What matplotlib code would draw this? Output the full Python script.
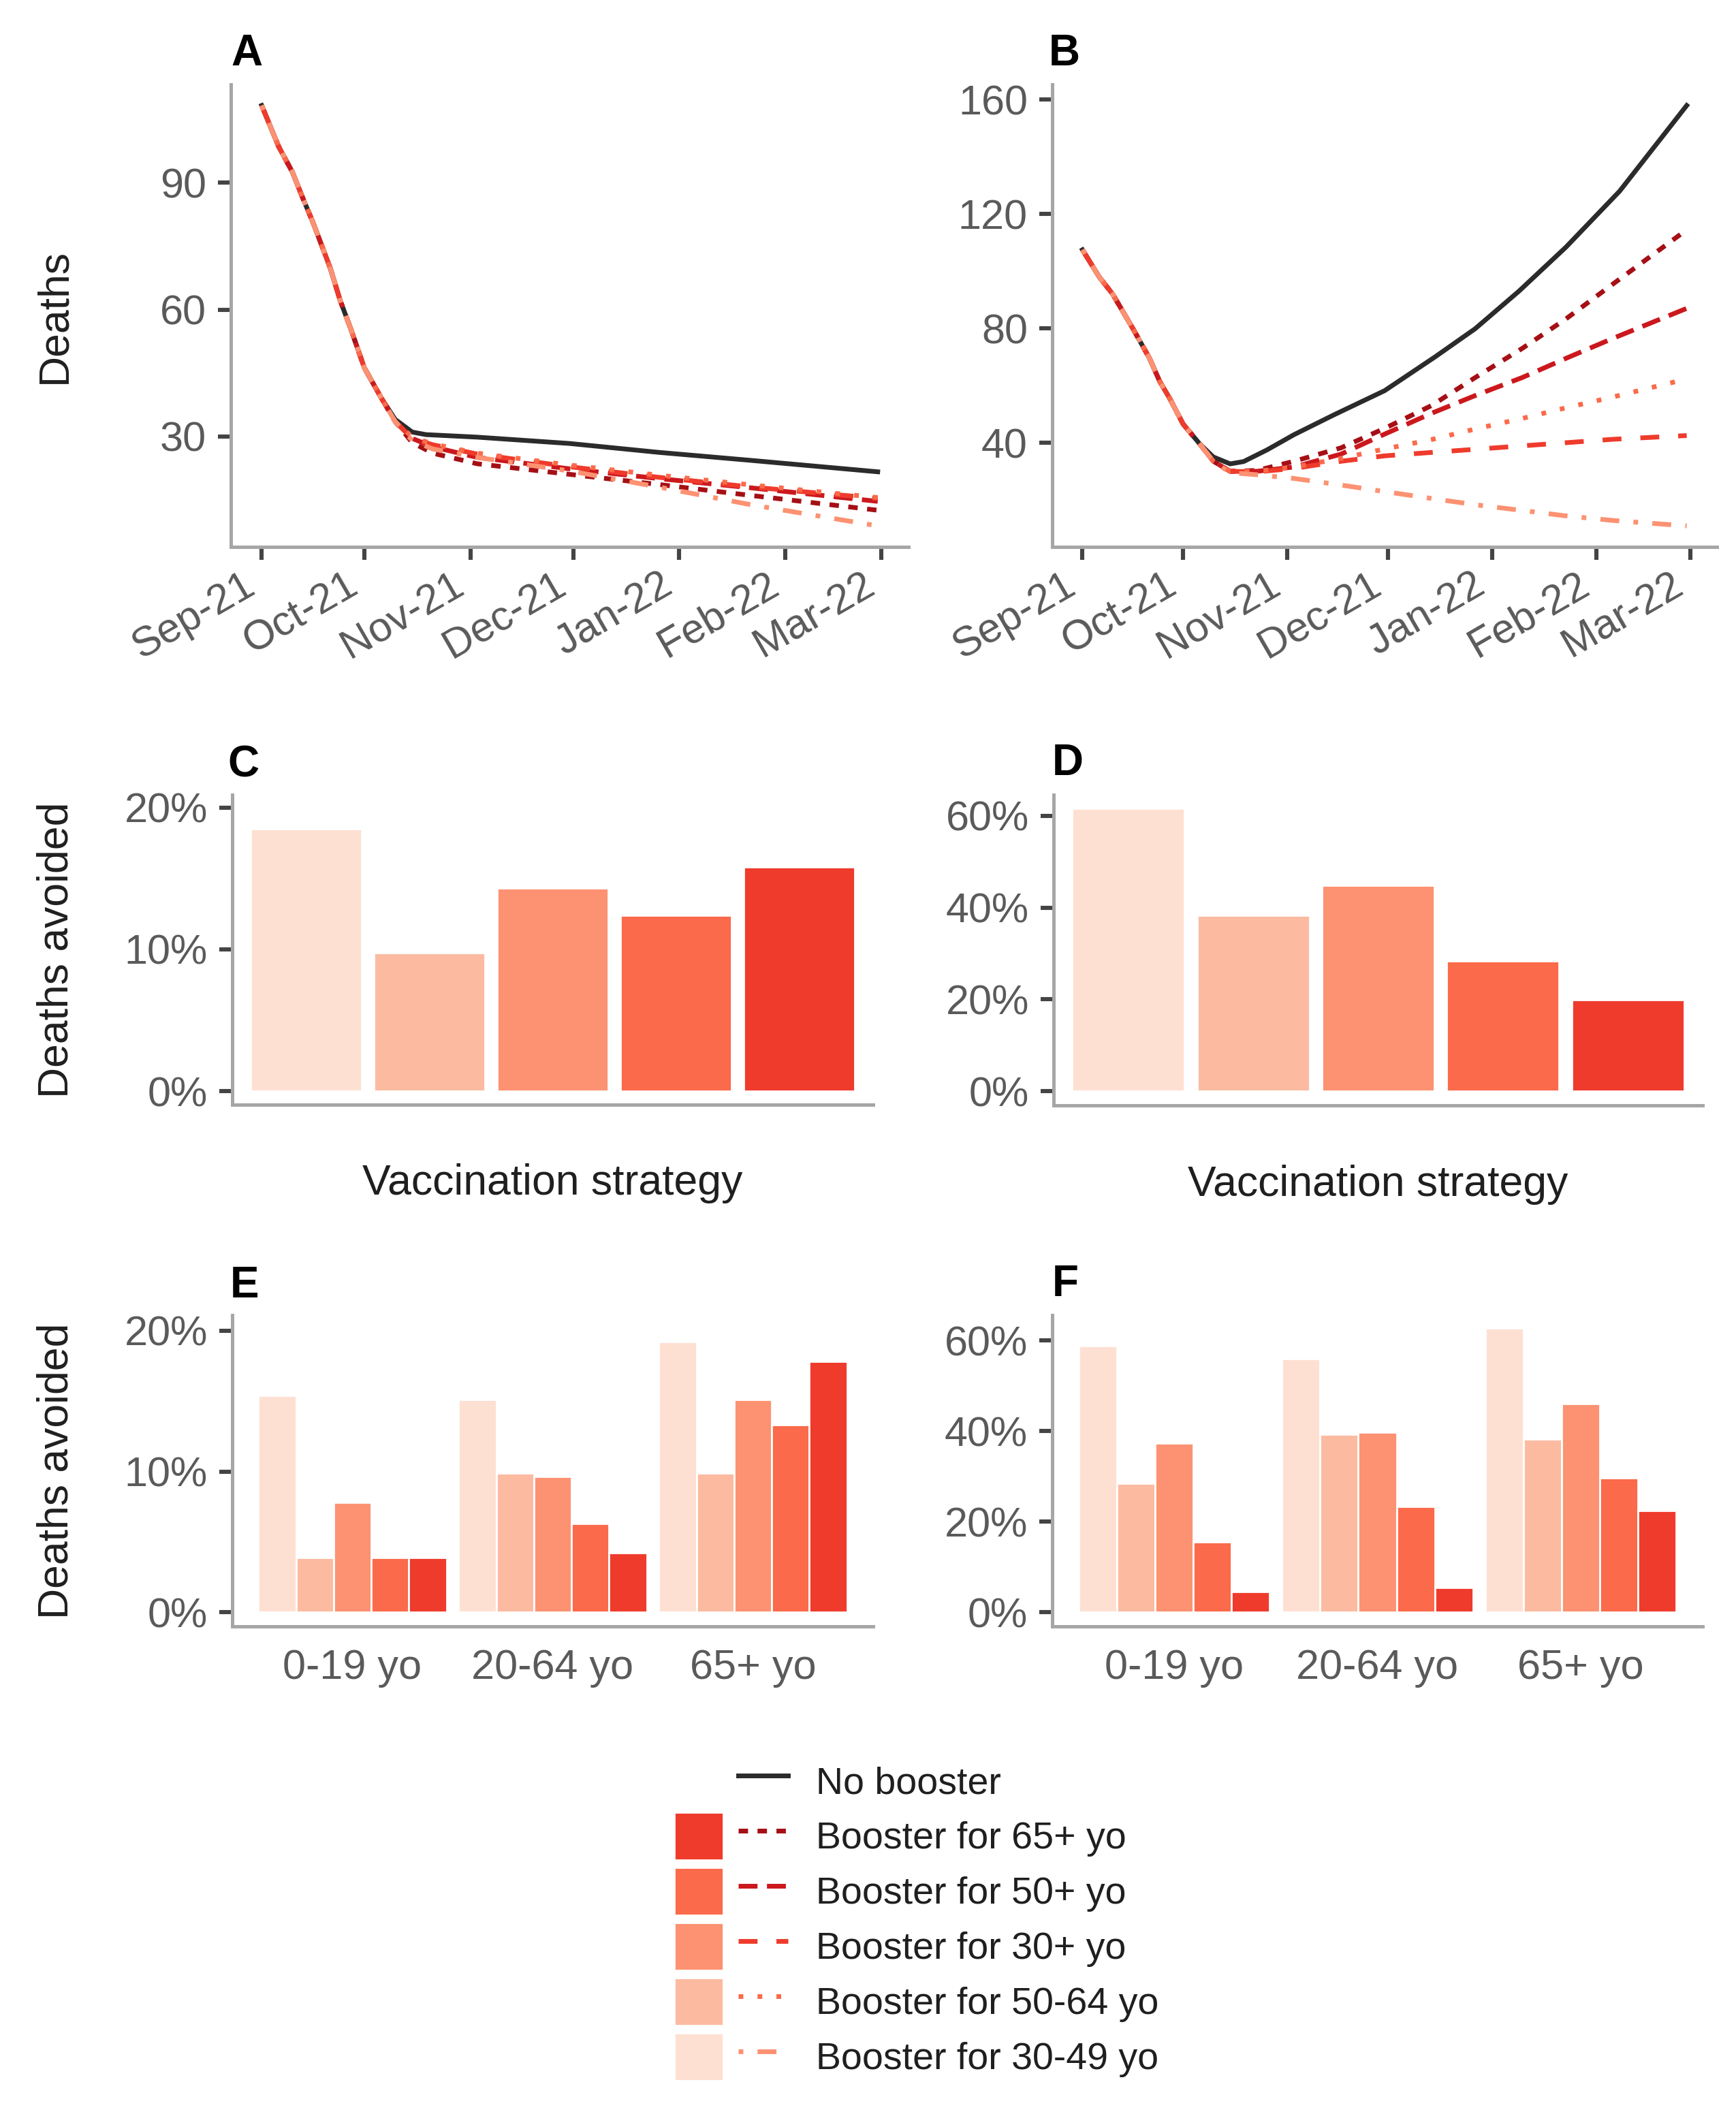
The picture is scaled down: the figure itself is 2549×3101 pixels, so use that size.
import matplotlib
matplotlib.use("Agg")
import matplotlib.pyplot as plt
import matplotlib.dates as mdates
from matplotlib.lines import Line2D
from matplotlib.patches import Patch
from matplotlib.legend_handler import HandlerTuple
from matplotlib.ticker import FuncFormatter
import numpy as np

plt.rcParams['font.family'] = ['Liberation Sans', 'DejaVu Sans']

W, H = 2549, 3101
start = np.datetime64('2021-09-01')

# strategies, lightest to darkest
strategies = ['Booster for 30-49 yo', 'Booster for 50-64 yo', 'Booster for 30+ yo',
              'Booster for 50+ yo', 'Booster for 65+ yo']
fills = ['#FEE0D2', '#FCBBA1', '#FC9272', '#FB6A4A', '#EF3B2C']
line_cols = ['#FC9272', '#FB6A4A', '#EF3B2C', '#CB181D', '#A50F15']
dashes = [(1, 3, 4, 3), (1, 3), (4, 4), (4, 2), (2, 2)]
black = '#2b2b2b'

# panel A: daily deaths (day 0 = 1 Sep 2021)
days_early = [0, 5, 9, 12, 15, 20, 23, 26, 30, 35]
a_early = [108.3, 98.5, 92.5, 86.4, 80.6, 69.9, 62.0, 55.5, 46.2, 39.0]
a_none_days = [39, 44, 48, 63, 90, 116, 143, 180]
a_none = [34.0, 31.0, 30.4, 29.8, 28.3, 26.2, 24.3, 21.6]
a_tail_days = [39, 44, 50, 63, 90, 116, 143, 180]
a_30_49 = [33.5, 29.0, 27.0, 25.0, 21.8, 18.0, 13.8, 8.8]
a_50_64 = [33.5, 29.8, 28.2, 26.0, 23.2, 20.8, 18.5, 15.5]
a_30plus = [33.5, 29.5, 28.0, 25.8, 22.8, 20.3, 18.0, 15.3]
a_50plus = [33.5, 29.5, 27.5, 25.0, 22.3, 20.0, 17.8, 14.6]
a_65plus = [33.5, 28.5, 26.0, 23.5, 21.0, 18.6, 16.0, 12.5]

# panel B: daily deaths, second scenario
b_early = [107.5, 98.0, 92.0, 86.0, 80.0, 69.5, 61.5, 55.5, 46.5, 39.5]
b_none_days = [39, 44, 48, 55, 63, 75, 90, 105, 117, 130, 144, 160, 180]
b_none = [35.0, 32.6, 33.4, 37.5, 42.8, 49.8, 58.2, 70.0, 79.9, 93.0, 108.4, 128.0, 158.0]
b_tail_days = [39, 44, 52, 63, 77, 90, 104, 117, 131, 144, 158, 180]
b_30_49 = [33.5, 29.5, 28.8, 27.5, 25.2, 22.9, 20.5, 18.3, 16.3, 14.4, 12.8, 10.9]
b_50_64 = [33.5, 30.0, 30.0, 31.5, 34.5, 37.8, 41.1, 44.8, 48.5, 52.2, 56.0, 62.3]
b_30plus = [33.5, 30.0, 29.8, 31.0, 33.5, 35.4, 36.6, 37.7, 38.9, 40.0, 41.2, 42.5]
b_50plus = [33.5, 30.0, 30.0, 31.5, 36.0, 43.0, 50.3, 56.5, 62.8, 69.5, 76.5, 87.0]
b_65plus = [33.5, 30.0, 30.3, 33.5, 38.2, 45.0, 53.0, 62.8, 73.0, 83.3, 95.5, 114.5]

# panels C, D: deaths avoided (%) by strategy
pct_c = [18.5, 9.75, 14.3, 12.4, 15.8]
pct_d = [61.6, 38.3, 44.9, 28.4, 19.9]

# panels E, F: deaths avoided (%) by age group
age_groups = ['0-19 yo', '20-64 yo', '65+ yo']
e_30_49 = [15.4, 15.1, 19.2]
e_50_64 = [3.9, 9.9, 9.9]
e_30plus = [7.8, 9.65, 15.1]
e_50plus = [3.9, 6.3, 13.3]
e_65plus = [3.9, 4.2, 17.8]
f_30_49 = [58.8, 56.0, 62.8]
f_50_64 = [28.4, 39.3, 38.2]
f_30plus = [37.3, 39.7, 46.0]
f_50plus = [15.5, 23.4, 29.7]
f_65plus = [4.5, 5.5, 22.4]

LW = 2.5
TICK_FS = 22
TITLE_FS = 22.5


def to_dates(days):
    return start + np.array(days, dtype='timedelta64[D]')


def add_axes(left, top, right, bottom):
    return fig.add_axes([left / W, 1 - bottom / H, (right - left) / W, (bottom - top) / H])


def style(ax):
    for s in ['top', 'right']:
        ax.spines[s].set_visible(False)
    for s in ['left', 'bottom']:
        ax.spines[s].set_color('#a6a6a6')
        ax.spines[s].set_linewidth(1.8)
    ax.tick_params(color='#444444', labelcolor='#5a5a5a', labelsize=TICK_FS,
                   length=7, width=2.2, pad=6)


def line_panel(ax, early, none_days, none_vals, tail_days, tails, yticks):
    ax.plot(to_dates(days_early + none_days), early + none_vals, color=black, lw=LW)
    for i in [4, 3, 2, 1, 0]:
        ax.plot(to_dates(days_early + tail_days), early + tails[i], color=line_cols[i],
                lw=LW, linestyle=(0, dashes[i]))
    ax.margins(x=0.05, y=0.05)
    ax.set_yticks(yticks)
    ax.xaxis.set_major_locator(mdates.MonthLocator(bymonthday=1))
    ax.xaxis.set_major_formatter(mdates.DateFormatter('%b-%y'))
    style(ax)
    ax.tick_params(axis='x', pad=3)
    for lab in ax.get_xticklabels():
        lab.set_rotation(30)
        lab.set_ha('right')


pct_fmt = FuncFormatter(lambda v, p: f'{v:.0f}%')

fig = plt.figure(figsize=(W / 200, H / 200), dpi=200)

ax_a = add_axes(339, 124, 1334, 803)
line_panel(ax_a, a_early, a_none_days, a_none, a_tail_days,
           [a_30_49, a_50_64, a_30plus, a_50plus, a_65plus], [30, 60, 90])
ax_a.set_ylabel('Deaths', fontsize=TITLE_FS, color='#1f1f1f')
ax_a.yaxis.set_label_coords(-0.231, 0.5)

ax_b = add_axes(1545, 124, 2521, 803)
line_panel(ax_b, b_early, b_none_days, b_none, b_tail_days,
           [b_30_49, b_50_64, b_30plus, b_50plus, b_65plus], [40, 80, 120, 160])

# C and D
x_strat = np.arange(1, 6)
ax_c = add_axes(341, 1167, 1282, 1622)
ax_d = add_axes(1547, 1167, 2500, 1623)
for ax, vals, ylim, yt in [(ax_c, pct_c, (-0.96, 20.9), [0, 10, 20]),
                           (ax_d, pct_d, (-3.1, 64.6), [0, 20, 40, 60])]:
    ax.bar(x_strat, vals, width=0.9, color=fills, edgecolor='white', linewidth=1.0)
    ax.set_xlim(0.4, 5.6)
    ax.set_ylim(*ylim)
    ax.set_yticks(yt)
    ax.yaxis.set_major_formatter(pct_fmt)
    ax.set_xticks([])
    style(ax)
    ax.set_xlabel('Vaccination strategy', fontsize=TITLE_FS, color='#1f1f1f')
    ax.xaxis.set_label_coords(0.5, -0.19)
ax_c.set_ylabel('Deaths avoided', fontsize=TITLE_FS, color='#1f1f1f')
ax_c.yaxis.set_label_coords(-0.243, 0.5)

# E and F
x_age = np.arange(len(age_groups))
bw = 0.94 / 5
ax_e = add_axes(341, 1931, 1282, 2388)
ax_f = add_axes(1545, 1931, 2500, 2388)
for ax, series, ylim, yt in [
        (ax_e, [e_30_49, e_50_64, e_30plus, e_50plus, e_65plus], (-1.0, 21.1), [0, 10, 20]),
        (ax_f, [f_30_49, f_50_64, f_30plus, f_50plus, f_65plus], (-3.1, 65.6), [0, 20, 40, 60])]:
    for i, vals in enumerate(series):
        ax.bar(x_age + (i - 2) * bw, vals, width=bw, color=fills[i],
               edgecolor='white', linewidth=1.0)
    ax.set_xlim(-0.6, 2.6)
    ax.set_ylim(*ylim)
    ax.set_yticks(yt)
    ax.yaxis.set_major_formatter(pct_fmt)
    ax.set_xticks(x_age)
    ax.set_xticklabels(age_groups)
    style(ax)
    ax.tick_params(axis='x', length=0, pad=12)
ax_e.set_ylabel('Deaths avoided', fontsize=TITLE_FS, color='#1f1f1f')
ax_e.yaxis.set_label_coords(-0.243, 0.5)

# panel letters
for letter, x, y in [('A', 339, 96), ('B', 1540, 96), ('C', 334, 1140),
                     ('D', 1545, 1138), ('E', 338, 1905), ('F', 1545, 1903)]:
    fig.text(x / W, 1 - y / H, letter, fontsize=23, fontweight='bold',
             ha='left', va='baseline', color='black')

# shared legend
handles = [(Patch(facecolor='none', edgecolor='none'), Line2D([], [], color=black, lw=LW))]
labels = ['No booster']
for i in [4, 3, 2, 1, 0]:
    handles.append((Patch(facecolor=fills[i], edgecolor='white', linewidth=1.0),
                    Line2D([], [], color=line_cols[i], lw=LW, linestyle=(0, dashes[i]))))
    labels.append(strategies[i])
fig.legend(handles, labels, handler_map={tuple: HandlerTuple(ndivide=None, pad=0.4)},
           loc='upper left', bbox_to_anchor=(990 / W, 1 - 2580 / H), frameon=False,
           fontsize=20, labelcolor='#1f1f1f', handlelength=3.0, handleheight=1.56,
           labelspacing=0.2, handletextpad=0.75, borderpad=0, borderaxespad=0)

fig.savefig('out.png', dpi=200, facecolor='white')
